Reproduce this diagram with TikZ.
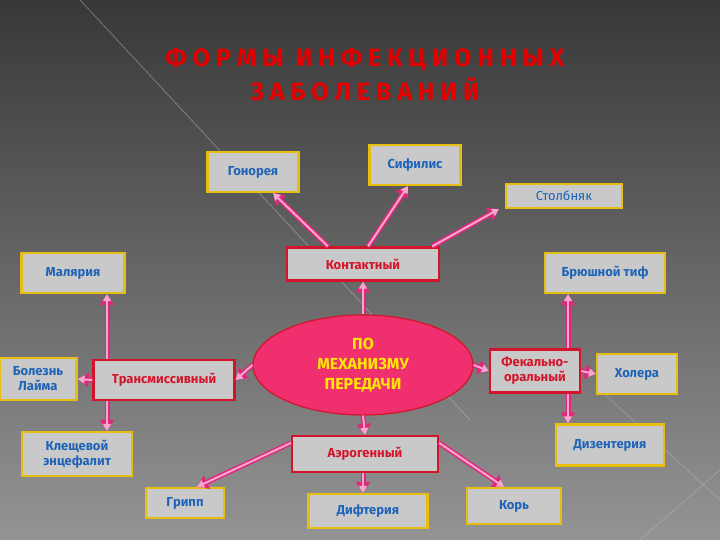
\documentclass[tikz,border=0pt]{standalone}
\usepackage{fontspec}
\setmainfont{Fira Sans}
\usetikzlibrary{arrows.meta,shapes.geometric}
\definecolor{bxfill}{HTML}{C9C9C9}
\definecolor{gold}{HTML}{E6BE10}
\definecolor{crim}{HTML}{D4142A}
\definecolor{blu}{HTML}{1E63B8}
\definecolor{pk}{HTML}{E0287A}
\definecolor{lpk}{HTML}{F6A6CF}
\definecolor{ell}{HTML}{F0306E}
\tikzset{
 x=1pt,y=-1pt,
 bf/.style={font=\fontsize{13}{15}\selectfont\bfseries},
 box/.style={draw=gold,line width=2.2pt,fill=bxfill,text=blu,bf,align=center,inner sep=0pt},
 rbox/.style={draw=crim,line width=2.2pt,fill=bxfill,text=crim,bf,align=center,inner sep=0pt},
 arr/.style={preaction={draw=pk,line width=5pt,-{Triangle[length=11pt,width=14pt]}},draw=lpk,line width=2pt,-{Triangle[length=7pt,width=8pt]}},
}
\begin{document}
\begin{tikzpicture}
\useasboundingbox (0,0) rectangle (720,540);
\shade[top color=black!78,bottom color=black!42] (0,0) rectangle (720,540);
\draw[white!60!gray,opacity=0.5,line width=0.6pt] (80,0) -- (470,420);
\draw[white!60!gray,opacity=0.4,line width=0.6pt] (600,390) -- (720,500);
\draw[white!60!gray,opacity=0.4,line width=0.6pt] (640,540) -- (720,470);
\node[text=red!90!black,font=\fontsize{25}{34}\selectfont\bfseries,align=center] (title) at (365,75) {Ф О Р М Ы\ \ И Н Ф Е К Ц И О Н Н Ы Х\\ З А Б О Л Е В А Н И Й};
\node[box,minimum width=91,minimum height=40] (gon) at (253,172) {Гонорея};
\node[box,minimum width=91,minimum height=40] (sif) at (415,165) {Сифилис};
\node[box,minimum width=116,minimum height=24,font=\fontsize{13}{15}\selectfont\rmfamily] (sto) at (564,196) {Столбняк};
\node[rbox,minimum width=152,minimum height=33] (kon) at (363,264) {Контактный};
\node[box,minimum width=103,minimum height=40] (mal) at (73,273) {Малярия};
\node[box,minimum width=120,minimum height=40] (bru) at (605,273) {Брюшной тиф};
\node[ellipse,draw=crim,line width=1.2pt,fill=ell,text=yellow!90!orange,font=\fontsize{16}{20}\selectfont\bfseries,align=center,minimum width=220,minimum height=100,inner sep=0pt] (el) at (363,365) {ПО\\МЕХАНИЗМУ\\ПЕРЕДАЧИ};
\node[rbox,minimum width=141,minimum height=40] (tra) at (164,380) {Трансмиссивный};
\node[box,minimum width=77,minimum height=42] (lai) at (38,379) {Болезнь\\Лайма};
\node[rbox,minimum width=90,minimum height=43] (fek) at (535,371) {Фекально-\\оральный};
\node[box,minimum width=80,minimum height=40] (hol) at (637,374) {Холера};
\node[box,minimum width=110,minimum height=44] (kle) at (77,454) {Клещевой\\энцефалит};
\node[rbox,minimum width=146,minimum height=36] (aer) at (365,454) {Аэрогенный};
\node[box,minimum width=108,minimum height=41] (diz) at (610,445) {Дизентерия};
\node[box,minimum width=78,minimum height=30] (gri) at (185,503) {Грипп};
\node[box,minimum width=119,minimum height=34] (dif) at (368,511) {Дифтерия};
\node[box,minimum width=94,minimum height=36] (kor) at (514,506) {Корь};
\draw[arr] ([xshift=-35pt]kon.north) -- ([xshift=20pt]gon.south);
\draw[arr] ([xshift=5pt]kon.north) -- ([xshift=-7pt]sif.south);
\draw[arr] ([xshift=-8pt]kon.north east) -- ([xshift=-6pt]sto.south west);
\draw[arr] (el.north) -- (kon.south);
\draw[arr] (el.west) -- (tra.east);
\draw[arr] (tra.west) -- (lai.east);
\draw[arr] ([xshift=-57pt]tra.north) -- ([xshift=34pt]mal.south);
\draw[arr] ([xshift=-57pt]tra.south) -- ([xshift=30pt]kle.north);
\draw[arr] (el.east) -- (fek.west);
\draw[arr] (fek.east) -- (hol.west);
\draw[arr] ([xshift=33pt]fek.north) -- ([xshift=-37pt]bru.south);
\draw[arr] ([xshift=33pt]fek.south) -- ([xshift=-42pt]diz.north);
\draw[arr] (el.south) -- (aer.north);
\draw[arr] ([xshift=-2pt]aer.south) -- ([xshift=-5pt]dif.north);
\draw[arr] ([yshift=-8pt]aer.north west) -- ([xshift=12pt]gri.north);
\draw[arr] ([yshift=-8pt]aer.north east) -- ([xshift=-10pt]kor.north);
\end{tikzpicture}
\end{document}
